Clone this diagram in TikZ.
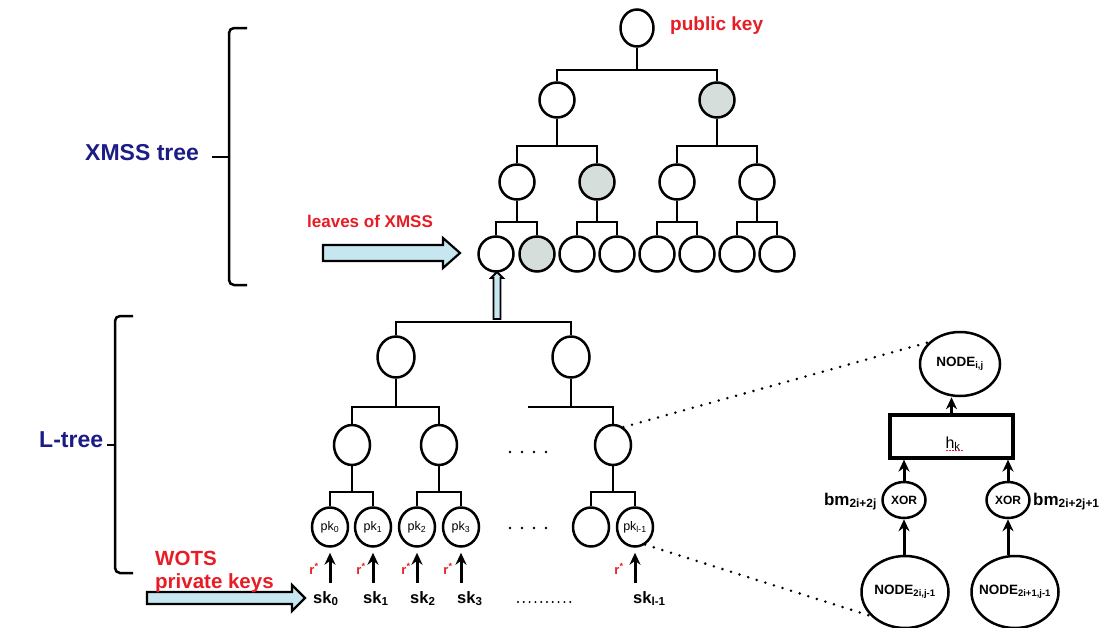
\documentclass[tikz,border=0pt]{standalone}
\usepackage{fontspec}
\setmainfont{Liberation Sans}
\usetikzlibrary{shapes.geometric,arrows.meta,calc}
\definecolor{navy}{RGB}{28,28,135}
\definecolor{kred}{RGB}{232,28,36}
\definecolor{lblue}{RGB}{198,230,240}
\definecolor{shade}{RGB}{214,222,220}
\newcommand\fs[1]{\fontsize{#1}{#1}\selectfont}
\newcommand\fork[4]{%
  \draw[ln] (#2.north) -- (#2.north |- 0,#4) -- (#3.north |- 0,#4) -- (#3.north);
  \draw[ln] (#1.south) -- (#1.south |- 0,#4);}
\begin{document}
\begin{tikzpicture}[x=1pt,y=-1pt,
  nd/.style={draw,ellipse,line width=2.5pt,inner sep=0pt,minimum width=35pt,minimum height=35pt},
  gnd/.style={nd,fill=shade},
  lnd/.style={nd,minimum width=37pt,minimum height=41pt},
  mnd/.style={nd,minimum width=36pt,minimum height=40pt},
  pknd/.style={nd,minimum width=36pt,minimum height=39pt,font=\fs{12.5}},
  ln/.style={line width=2.5pt},
  arr/.style={line width=3pt,-{Stealth[length=12pt,width=11pt]}},
  dotline/.style={line width=2.8pt,line cap=round,dash pattern=on 0pt off 9pt},
  blk/.style={draw,line width=2.2pt,fill=lblue,line join=miter},
  navylbl/.style={text=navy,font=\bfseries\fs{23},inner sep=0pt},
  redlbl/.style={text=kred,inner sep=0pt},
  sklbl/.style={font=\bfseries\fs{16.5},inner sep=0pt,anchor=base west},
  rlbl/.style={text=kred,font=\bfseries\fs{13},inner sep=0pt},
]
\useasboundingbox (0,0) rectangle (1105,627);
\fill[white] (0,0) rectangle (1105,627);
\clip (0,0) rectangle (1105,627);

% ---------------- XMSS tree ----------------
\node[nd,minimum width=33pt,minimum height=37pt] (r) at (637,28) {};
\node[nd] (l1a) at (557,100) {};
\node[gnd] (l1b) at (717,100) {};
\node[nd] (l2a) at (517,182) {};
\node[gnd] (l2b) at (597,182) {};
\node[nd] (l2c) at (677,182) {};
\node[nd] (l2d) at (757,182) {};
\node[nd] (x1) at (496,254) {};
\node[gnd] (x2) at (537,254) {};
\node[nd] (x3) at (577,254) {};
\node[nd] (x4) at (617,254) {};
\node[nd] (x5) at (657,254) {};
\node[nd] (x6) at (697,254) {};
\node[nd] (x7) at (737,254) {};
\node[nd] (x8) at (777,254) {};
\fork{r}{l1a}{l1b}{70}
\fork{l1a}{l2a}{l2b}{146}
\fork{l1b}{l2c}{l2d}{146}
\fork{l2a}{x1}{x2}{222}
\fork{l2b}{x3}{x4}{222}
\fork{l2c}{x5}{x6}{222}
\fork{l2d}{x7}{x8}{222}

\node[redlbl,font=\bfseries\fs{19},anchor=base west] (pub) at (670,30) {public key};

% brace XMSS
\draw[ln,rounded corners=5pt] (247,28) -- (229,28) -- (229,285) -- (247,285);
\draw[ln] (229,157) -- (212,157);
\node[navylbl,anchor=base west] (xt) at (85,160) {XMSS tree};

% leaves arrow
\node[redlbl,font=\bfseries\fs{17},anchor=base west] (lv) at (307,227) {leaves of XMSS};
\draw[blk] (323,245) -- (443,245) -- (443,238) -- (460,253) -- (443,268) -- (443,261) -- (323,261) -- cycle;

% ---------------- L-tree ----------------
\node[lnd] (a1) at (396,357) {};
\node[lnd] (a2) at (571,357) {};
\node[mnd] (b1) at (352,445) {};
\node[mnd] (b2) at (439,445) {};
\node[mnd] (b3) at (613,445) {};
\node[pknd] (pk0) at (330,527) {pk\textsubscript{0}};
\node[pknd] (pk1) at (373,527) {pk\textsubscript{1}};
\node[pknd] (pk2) at (417,527) {pk\textsubscript{2}};
\node[pknd] (pk3) at (461,527) {pk\textsubscript{3}};
\node[pknd] (pkb) at (591,527) {};
\node[pknd] (pkl) at (635,527) {pk\textsubscript{l-1}};

\draw[ln] (a1.north) -- (a1.north |- 0,322) -- (a2.north |- 0,322) -- (a2.north);
\fork{a1}{b1}{b2}{407}
\coordinate (lfree) at (528,407);
\draw[ln] (b3.north) -- (b3.north |- 0,407) -- (lfree);
\draw[ln] (a2.south) -- (a2.south |- 0,407);
\fork{b1}{pk0}{pk1}{492}
\fork{b2}{pk2}{pk3}{492}
\fork{b3}{pkb}{pkl}{492}

% small arrow from L-tree root to leaf
\draw[blk,line width=1.8pt] (493.5,319) -- (493.5,278) -- (491,278) -- (497,272) -- (503,278) -- (500.5,278) -- (500.5,319) -- cycle;
\draw[ln] (a1.north |- 0,322) -- (a2.north |- 0,322);

% dots
\draw[dotline,dash pattern=on 0pt off 12pt] (510,452) -- (547,452);
\draw[dotline,dash pattern=on 0pt off 12pt] (510,528) -- (547,528);
\draw[line width=2.2pt,line cap=round,dash pattern=on 0pt off 5.8pt] (518,602) -- (571,602);

% sk labels
\node[sklbl] (sk0) at (313,603) {sk\textsubscript{0}};
\node[sklbl] (sk1) at (363,603) {sk\textsubscript{1}};
\node[sklbl] (sk2) at (410,603) {sk\textsubscript{2}};
\node[sklbl] (sk3) at (457,603) {sk\textsubscript{3}};
\node[sklbl] (skl) at (633,603) {sk\textsubscript{l-1}};

\foreach \p/\s/\rx in {pk0/sk0/314,pk1/sk1/361,pk2/sk2/406,pk3/sk3/448,pkl/skl/619}{
  \draw[arr,shorten >=5pt] (\p.south |- 0,583) -- (\p.south);
  \node[rlbl] (r\p) at (\rx,569) {r\textsuperscript{*}};
}

% brace L-tree
\draw[ln,rounded corners=5pt] (133,316) -- (115,316) -- (115,573) -- (133,573);
\draw[ln] (115,445) -- (107,445);
\node[navylbl,anchor=base west] (lt) at (39,447) {L-tree};

% WOTS arrow
\draw[blk] (147,592) -- (292,592) -- (292,585) -- (305,598) -- (292,611) -- (292,604) -- (147,604) -- cycle;
\node[redlbl,font=\bfseries\fs{20.5},anchor=base west] (w1) at (155,565) {WOTS};
\node[redlbl,font=\bfseries\fs{20.5},anchor=base west] (w2) at (155,588) {private keys};

% ---------------- detail ----------------
\node[nd,minimum width=80pt,minimum height=64pt,label={[font=\bfseries\fs{13.5}]center:NODE\textsubscript{i,j}}] (nij) at (960,364) {};
\node[draw,line width=3.2pt,minimum width=123pt,minimum height=43pt,inner sep=0pt] (hk) at (951.5,436.5) {};
\node[font=\fs{16},inner sep=0pt,anchor=base] (hkt) at (953,448) {h\textsubscript{k}};
\draw[kred,line width=1pt,dash pattern=on 1.5pt off 1.5pt] (946,450.5) -- (963,450.5);
\node[nd,minimum width=43pt,minimum height=36pt,font=\bfseries\fs{12}] (xo1) at (904,500) {XOR};
\node[nd,minimum width=43pt,minimum height=36pt,font=\bfseries\fs{12}] (xo2) at (1008,500) {XOR};
\node[font=\bfseries\fs{17},inner sep=0pt,anchor=base east] (bm1) at (877,505) {bm\textsubscript{2i+2j}};
\node[font=\bfseries\fs{17},inner sep=0pt,anchor=base west] (bm2) at (1033,505) {bm\textsubscript{2i+2j+1}};
\node[nd,minimum width=87pt,minimum height=72pt,label={[font=\bfseries\fs{13.5}]center:NODE\textsubscript{2i,j-1}}] (lo1) at (905,592) {};
\node[nd,minimum width=87pt,minimum height=72pt,label={[font=\bfseries\fs{13.5}]center:NODE\textsubscript{2i+1,j-1}}] (lo2) at (1015,592) {};

\draw[arr] (hk.north) -- (hk.north |- nij.south);
\draw[arr] (xo1.north) -- (xo1.north |- hk.south);
\draw[arr] (xo2.north) -- (xo2.north |- hk.south);
\draw[arr] (xo1.south |- lo1.north) -- (xo1.south);
\draw[arr] (xo2.south |- lo2.north) -- (xo2.south);

% dotted zoom lines
\draw[dotline] (b3.60) -- (nij.145);
\draw[dotline] (pkl.-60) -- (lo1.215);
\end{tikzpicture}
\end{document}
